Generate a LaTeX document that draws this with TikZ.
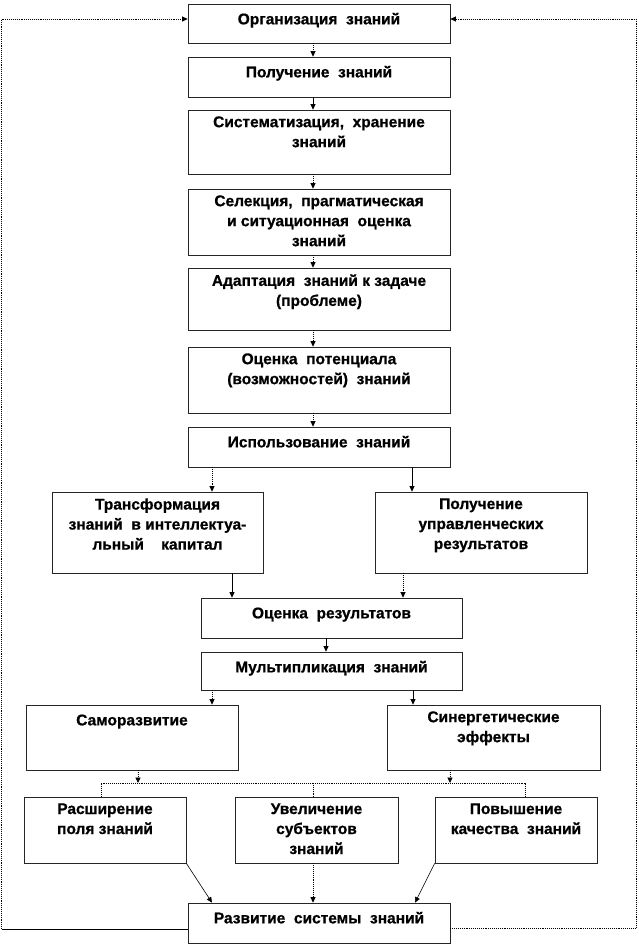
\documentclass[tikz,border=0pt]{standalone}
\usepackage{fontspec}
\setmainfont{Liberation Sans}[BoldFeatures={FakeBold=0.8}]
\usetikzlibrary{arrows.meta,calc}
\tikzset{
  box/.style={draw=black!85, line width=0.7pt, inner sep=0pt},
  txt/.style={anchor=north, align=center, inner sep=0pt,
    font=\fontsize{15.5}{20}\selectfont\bfseries,
    execute at begin node={\rule{0pt}{14pt}}},
  link/.style={line width=0.8pt, draw=black},
  arr/.style={link, -{Triangle[length=5.5pt,width=5pt]}},
  dot/.style={line width=0.9pt, dash pattern=on 1pt off 0.9pt},
}
\begin{document}
\begin{tikzpicture}[x=1pt,y=-1pt]
\useasboundingbox (0,0) rectangle (638,945);
% boxes
\node[box, minimum width=262pt, minimum height=39pt] (b1) at (319,23.5) {};
\node[box, minimum width=262pt, minimum height=40pt] (b2) at (319,77) {};
\node[box, minimum width=262pt, minimum height=64pt] (b3) at (319,142) {};
\node[box, minimum width=262pt, minimum height=66pt] (b4) at (319,222) {};
\node[box, minimum width=262pt, minimum height=62pt] (b5) at (319,299) {};
\node[box, minimum width=262pt, minimum height=66pt] (b6) at (319,380) {};
\node[box, minimum width=262pt, minimum height=40pt] (b7) at (319,447) {};
\node[box, minimum width=211pt, minimum height=81pt] (b8) at (157.5,532.5) {};
\node[box, minimum width=212pt, minimum height=81pt] (b9) at (481,532.5) {};
\node[box, minimum width=261pt, minimum height=40pt] (b10) at (331.5,618) {};
\node[box, minimum width=261pt, minimum height=38pt] (b11) at (331.5,671) {};
\node[box, minimum width=212pt, minimum height=65pt] (b12) at (132,737.5) {};
\node[box, minimum width=213pt, minimum height=65pt] (b13) at (493.5,737.5) {};
\node[box, minimum width=162pt, minimum height=66pt] (b14) at (105,830) {};
\node[box, minimum width=163pt, minimum height=66pt] (b15) at (316.5,830) {};
\node[box, minimum width=162pt, minimum height=66pt] (b16) at (516,830) {};
\node[box, minimum width=262pt, minimum height=40pt] (b17) at (319,923) {};
% texts
\node[txt] (t1) at ([yshift=-6.5pt]b1.north) {Организация\ \ знаний};
\node[txt] (t2) at ([yshift=-6.5pt]b2.north) {Получение\ \ знаний};
\node[txt] (t3) at ([yshift=-6.5pt]b3.north) {Систематизация,\ \ хранение\\знаний};
\node[txt] (t4) at ([yshift=-6.5pt]b4.north) {Селекция,\ \ прагматическая\\и ситуационная\ \ оценка\\знаний};
\node[txt] (t5) at ([yshift=-6.5pt]b5.north) {Адаптация\ \ знаний к задаче\\(проблеме)};
\node[txt] (t6) at ([yshift=-6.5pt]b6.north) {Оценка\ \ потенциала\\(возможностей)\ \ знаний};
\node[txt] (t7) at ([yshift=-6.5pt]b7.north) {Использование\ \ знаний};
\node[txt] (t8) at ([yshift=-6.5pt]b8.north) {Трансформация\\знаний\ \ в интеллектуа-\\льный\ \ \ \ капитал};
\node[txt] (t9) at ([yshift=-6.5pt]b9.north) {Получение\\управленческих\\результатов};
\node[txt] (t10) at ([yshift=-6.5pt]b10.north) {Оценка\ \ результатов};
\node[txt] (t11) at ([yshift=-6.5pt]b11.north) {Мультипликация\ \ знаний};
\node[txt] (t12) at ([yshift=-6.5pt]b12.north) {Саморазвитие};
\node[txt] (t13) at ([yshift=-6.5pt]b13.north) {Синергетические\\эффекты};
\node[txt] (t14) at ([yshift=-6.5pt]b14.north) {Расширение\\поля знаний};
\node[txt] (t15) at ([yshift=-6.5pt]b15.north) {Увеличение\\субъектов\\знаний};
\node[txt] (t16) at ([yshift=-6.5pt]b16.north) {Повышение\\качества\ \ знаний};
\node[txt] (t17) at ([yshift=-6.5pt]b17.north) {Развитие\ \ системы\ \ знаний};
% main column
\draw[arr,dot] ([xshift=-6pt]b1.south) -- ([xshift=-6pt]b2.north);
\draw[arr] ([xshift=-6pt]b2.south) -- ([xshift=-6pt]b3.north);
\draw[arr,dot] ([xshift=-6pt]b3.south) -- ([xshift=-6pt]b4.north);
\draw[arr,dot] ([xshift=-6pt]b4.south) -- ([xshift=-6pt]b5.north);
\draw[arr,dot] ([xshift=-6pt]b5.south) -- ([xshift=-6pt]b6.north);
\draw[arr,dot] ([xshift=-6pt]b6.south) -- ([xshift=-6pt]b7.north);
% split
\draw[arr,dot] ([xshift=-107pt]b7.south) coordinate (c78) -- (c78 |- b8.north);
\draw[arr] ([xshift=93pt]b7.south) coordinate (c79) -- (c79 |- b9.north);
\draw[arr] ([xshift=74.5pt]b8.south) coordinate (c810) -- (c810 |- b10.north);
\draw[arr,dot] ([xshift=-78pt]b9.south) coordinate (c910) -- (c910 |- b10.north);
\draw[arr] ([xshift=-5.5pt]b10.south) coordinate (c1011) -- (c1011 |- b11.north);
\draw[arr,dot] ([xshift=-119.5pt]b11.south) coordinate (c1112) -- (c1112 |- b12.north);
\draw[arr] ([xshift=81.5pt]b11.south) coordinate (c1113) -- (c1113 |- b13.north);
% bus
\coordinate (busL) at (101,783);
\coordinate (busM) at (313,783);
\coordinate (busR) at (525,783);
\draw[arr,dot] ([xshift=6pt]b12.south) coordinate (c12) -- (c12 |- busL);
\draw[arr,dot] ([xshift=-43.5pt]b13.south) coordinate (c13) -- (c13 |- busR);
\draw[link,dot] (busL |- b14.north) -- (busL) -- (busR) -- (busR |- b16.north);
\draw[link,dot] (busM) -- (busM |- b15.north);
% to final
\draw[arr,line width=0.6pt] (b14.south east) -- ([xshift=-107pt]b17.north);
\draw[arr,dot] (b15.south -| busM) -- (busM |- b17.north);
\draw[arr,line width=0.6pt] (b16.south west) -- ([xshift=96pt]b17.north);
% feedback loops
\coordinate (LB) at (1.5,929);
\coordinate (LT) at (1.5,19);
\coordinate (RB) at (636.5,928);
\coordinate (RT) at (636.5,19);
\draw[link] (b17.west |- LB) -- (LB);
\draw[arr,dot] (LB) -- (LT) -- (LT -| b1.west);
\draw[arr,dot] (b17.east |- RB) -- (RB) -- (RT) -- (RT -| b1.east);
\end{tikzpicture}
\end{document}
